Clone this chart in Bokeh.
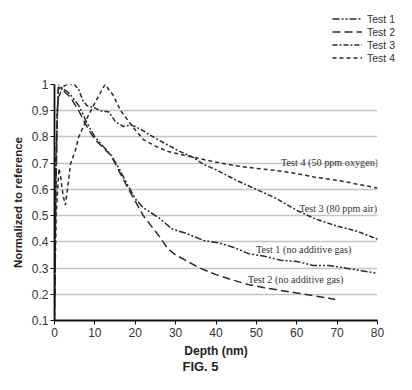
from bokeh.plotting import figure
from bokeh.layouts import column
from bokeh.models import (Range1d, FixedTicker, Legend, LegendItem, Label)
from bokeh.embed import file_html
from bokeh.resources import INLINE

# ---------------- data ----------------
test1_depth = [0, 0.3, 0.7, 1, 2, 3, 4, 6, 8, 10, 12, 14, 16, 18, 20, 22, 26, 29,
               33, 37, 41, 45, 48, 52, 56, 60, 64, 68, 72, 76, 80]
test1_vals = [0.12, 0.6, 0.9, 1.0, 0.985, 0.975, 0.96, 0.92, 0.855, 0.8, 0.765, 0.73,
              0.68, 0.62, 0.565, 0.53, 0.49, 0.45, 0.43, 0.405, 0.395, 0.375, 0.355,
              0.345, 0.33, 0.325, 0.31, 0.31, 0.3, 0.29, 0.28]

test2_depth = [0, 0.3, 0.7, 1, 2, 3, 4, 6, 8, 10, 12, 14, 16, 18, 20, 22, 24, 26, 28,
               30, 33, 36, 40, 44, 48, 52, 56, 60, 64, 68, 69.5]
test2_vals = [0.1, 0.55, 0.88, 0.99, 0.98, 0.965, 0.95, 0.9, 0.84, 0.79, 0.76, 0.73,
              0.67, 0.61, 0.555, 0.5, 0.46, 0.42, 0.375, 0.35, 0.325, 0.3, 0.275,
              0.255, 0.237, 0.225, 0.215, 0.205, 0.195, 0.185, 0.18]

test3_depth = [0, 0.3, 0.7, 1, 2, 3, 4, 5, 6, 7, 8, 10, 11.5, 13.5, 15, 17, 19, 20, 22,
               25, 28, 31, 34, 37, 40, 45, 50, 55, 60, 65, 70, 75, 80]
test3_vals = [0.2, 0.7, 0.9, 0.95, 0.99, 1.0, 1.0, 1.0, 0.98, 0.94, 0.92, 0.91, 0.9,
              0.895, 0.86, 0.84, 0.845, 0.84, 0.823, 0.795, 0.77, 0.745, 0.725, 0.695,
              0.675, 0.635, 0.6, 0.565, 0.52, 0.485, 0.46, 0.44, 0.41]

test4_depth = [0, 0.4, 1.1, 1.6, 2.1, 2.7, 3.2, 4, 5.2, 6, 8, 10, 12.5, 14.5, 16.4,
               19.3, 22, 25, 28, 33, 38.7, 45, 50, 55, 60, 65, 70, 75, 80]
test4_vals = [0.15, 0.5, 0.68, 0.64, 0.58, 0.54, 0.6, 0.7, 0.75, 0.8, 0.87, 0.93, 1.0,
              0.96, 0.9, 0.84, 0.79, 0.765, 0.745, 0.727, 0.708, 0.69, 0.68, 0.672,
              0.66, 0.645, 0.635, 0.62, 0.605]

series_names = ["Test 1", "Test 2", "Test 3", "Test 4"]
curve_labels = ["Test 1 (no additive gas)", "Test 2 (no additive gas)",
                "Test 3 (80 ppm air)", "Test 4 (50 ppm oxygen)"]

x_ticks = [0, 10, 20, 30, 40, 50, 60, 70, 80]
y_ticks = [0.1, 0.2, 0.3, 0.4, 0.5, 0.6, 0.7, 0.8, 0.9, 1.0]
y_tick_labels = ["0.1", "0.2", "0.3", "0.4", "0.5", "0.6", "0.7", "0.8", "0.9", "1"]

INK = "#2b2b2b"
SANS = "Liberation Sans"
SERIF = "Liberation Serif"
dashes = ["7 2 2 2 2 2", "8 4", "5 2 2 2", "4 3"]
data = [(test1_depth, test1_vals), (test2_depth, test2_vals),
        (test3_depth, test3_vals), (test4_depth, test4_vals)]

# ---------------- legend strip (top) ----------------
top = figure(width=396, height=70, output_backend="svg", toolbar_location=None,
             x_range=Range1d(-20, -10), y_range=Range1d(0, 1),
             x_axis_location=None, y_axis_location=None, min_border=0)
top.frame_align = False
top.outline_line_color = None
top.grid.visible = False
leg_renderers = []
for (xs, ys), d in zip(data, dashes):
    leg_renderers.append(top.line(xs, ys, line_color=INK, line_width=1.5, line_dash=d))
legend = Legend(items=[LegendItem(label=n, renderers=[r])
                       for n, r in zip(series_names, leg_renderers)],
                location=(332, 6), orientation="vertical",
                padding=0, margin=0, spacing=0,
                glyph_width=30, glyph_height=13, label_height=13,
                label_standoff=5,
                label_text_font=SANS, label_text_font_size="10.5px",
                label_text_color="#333333",
                border_line_color=None, background_fill_alpha=0)
top.add_layout(legend, "center")

# ---------------- main chart ----------------
p = figure(width=396, height=290, output_backend="svg", toolbar_location=None,
           x_range=Range1d(0, 80), y_range=Range1d(0.1, 1.0),
           min_border_left=54, min_border_right=19, min_border_top=14,
           min_border_bottom=40)
p.frame_align = False
p.outline_line_color = None
p.background_fill_color = "white"
p.border_fill_color = "white"

p.xgrid.grid_line_color = None
p.ygrid.grid_line_color = "#c4c4c4"
p.ygrid.grid_line_width = 1.6

p.xaxis.ticker = FixedTicker(ticks=x_ticks)
p.yaxis.ticker = FixedTicker(ticks=y_ticks)
p.yaxis.major_label_overrides = dict(zip(y_ticks, y_tick_labels))

for ax in (p.xaxis, p.yaxis):
    ax.axis_line_color = "#111111"
    ax.axis_line_width = 1.8
    ax.major_tick_line_color = "#111111"
    ax.major_tick_out = 4
    ax.major_tick_in = 0
    ax.minor_tick_line_color = None
    ax.major_label_text_font = SANS
    ax.major_label_text_font_size = "12px"
    ax.major_label_text_color = "#333333"
    ax.axis_label_text_font = SANS
    ax.axis_label_text_font_style = "bold"
    ax.axis_label_text_color = "#222222"

p.yaxis.major_label_standoff = 2
p.xaxis.major_label_standoff = 3
p.yaxis.axis_label = "Normalized to reference"
p.yaxis.axis_label_text_font_size = "11.5px"
p.yaxis.axis_label_standoff = 5
p.xaxis.axis_label = "Depth (nm)"
p.xaxis.axis_label_text_font_size = "12px"
p.xaxis.axis_label_standoff = 4

for (xs, ys), d in zip(data, dashes):
    p.line(xs, ys, line_color=INK, line_width=1.5, line_dash=d)

label_pos = [(49.9, 0.371, "left"), (47.9, 0.256, "left"),
             (79.9, 0.526, "right"), (56.1, 0.703, "left")]
for txt, (lx, ly, al) in zip(curve_labels, label_pos):
    p.add_layout(Label(x=lx, y=ly, text=txt, text_font=SERIF,
                       text_font_size="10.2px", text_color="#333333",
                       text_align=al, text_baseline="middle"))

# ---------------- caption strip (bottom) ----------------
cap = figure(width=396, height=14, output_backend="svg", toolbar_location=None,
             x_range=Range1d(0, 1), y_range=Range1d(0, 1),
             x_axis_location=None, y_axis_location=None, min_border=0)
cap.frame_align = False
cap.outline_line_color = None
cap.grid.visible = False
cap.add_layout(Label(x=200, y=1, x_units="screen", y_units="screen",
                     text="FIG. 5", text_font=SANS, text_font_style="bold",
                     text_font_size="13px", text_color="#222222",
                     text_align="center", text_baseline="bottom"))

layout = column(top, p, cap, spacing=0)
open("out.html", "w").write(file_html(layout, INLINE))
